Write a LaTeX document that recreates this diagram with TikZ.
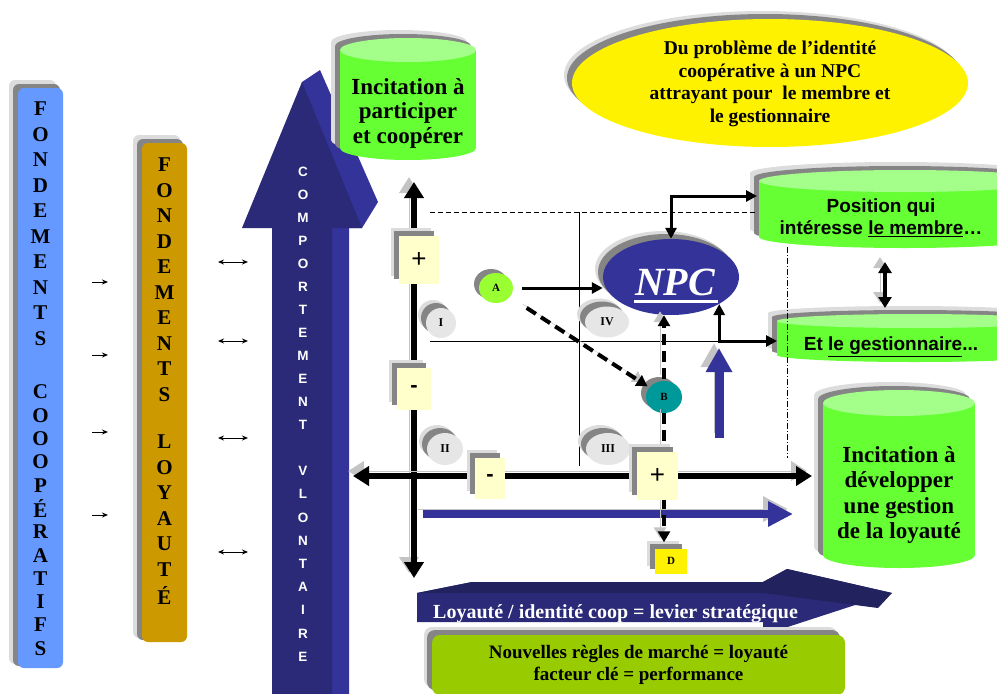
\documentclass[tikz,border=0pt]{standalone}
\usepackage{fontspec}
\setmainfont{Liberation Serif}
\newfontfamily\arialf{Liberation Sans}
\usetikzlibrary{arrows.meta,shapes.geometric,shadows}
\definecolor{colblue}{HTML}{6699FF}
\definecolor{colorange}{HTML}{CC9900}
\definecolor{navyF}{HTML}{2A2A78}
\definecolor{navyS}{HTML}{333399}
\definecolor{navyT}{HTML}{22225E}
\definecolor{cylgreen}{HTML}{66FF33}
\definecolor{cyltop}{HTML}{A3FF8A}
\definecolor{lyellow}{HTML}{FFFFCC}
\definecolor{boxgreen}{HTML}{99CC00}
\definecolor{tealB}{HTML}{009999}
\definecolor{greenA}{HTML}{99FF33}
\definecolor{ellgrey}{HTML}{E6E6E6}
\definecolor{shdark}{HTML}{858585}
\definecolor{shlight}{HTML}{DCDCDC}
\definecolor{axshadow}{HTML}{C4C4C4}
\newcommand\mycyl[5]{%
  \foreach \dx/\dy/\cc in {-9/-8/shlight,-5/-4/shdark}{
    \fill[\cc] ({#1-#2+\dx},{#3+\dy}) rectangle ({#1+#2+\dx},{#4+\dy});
    \fill[\cc] ({#1+\dx},{#3+\dy}) ellipse[x radius=#2, y radius=#5];
    \fill[\cc] ({#1+\dx},{#4+\dy}) ellipse[x radius=#2, y radius=#5];
  }
  \fill[cylgreen] ({#1-#2},#3) rectangle ({#1+#2},#4);
  \fill[cylgreen] (#1,#4) ellipse[x radius=#2, y radius=#5];
  \fill[cyltop] (#1,#3) ellipse[x radius=#2, y radius=#5];
}
\begin{document}
\begin{tikzpicture}[x=1pt,y=-1pt,
  letter/.style={font=\bfseries\fontsize{21}{21}\selectfont, inner sep=0pt},
  aletter/.style={font=\arialf\bfseries\fontsize{13.5}{13.5}\selectfont, text=white, inner sep=0pt},
  twosh/.style={general shadow={fill=shlight, shadow xshift=-8pt, shadow yshift=8pt},
                general shadow={fill=shdark, shadow xshift=-5pt, shadow yshift=5pt}},
  pm/.style={twosh, fill=lyellow, inner sep=0pt},
  qell/.style={ellipse, twosh, fill=ellgrey, inner sep=0pt, font=\bfseries\fontsize{12}{12}\selectfont},
  dotn/.style={ellipse, general shadow={fill=shdark, shadow xshift=-5pt, shadow yshift=4pt}, inner sep=0pt, font=\bfseries\fontsize{11}{11}\selectfont},
  conn/.style={line width=3pt, -{Triangle[width=11pt,length=11pt]}},
  dashconn/.style={line width=4pt, dash pattern=on 11pt off 6pt, -{Triangle[width=12pt,length=11pt]},
     preaction={draw=axshadow, transform canvas={xshift=-4pt,yshift=4pt}}},
  axis/.style={line width=6pt, {Triangle[width=19pt,length=16pt]}-{Triangle[width=19pt,length=16pt]},
     preaction={draw=axshadow, transform canvas={xshift=-5pt,yshift=5pt}}},
  bluearr/.style={navyS, preaction={draw=axshadow, transform canvas={xshift=-5pt,yshift=5pt}}},
  smallarr/.style={line width=1pt, -{Stealth[length=6pt,width=5pt]}},
  dsmallarr/.style={line width=1pt, {Stealth[length=6pt,width=5pt]}-{Stealth[length=6pt,width=5pt]}},
  thinl/.style={line width=0.8pt}
]
\useasboundingbox (0,0) rectangle (997,694);

% ---------- left columns ----------
\fill[shlight, rounded corners=6pt] (9,80) rectangle (56,664);
\fill[shdark, rounded corners=6pt] (13,84) rectangle (60,666);
\fill[colblue, rounded corners=6pt] (18,88) rectangle (63,668);
\foreach \l [count=\i from 0] in {F,O,N,D,E,M,E,N,T,S}
  \node[letter] (bA\i) at (40.5,{109+25.5*\i}) {\l};
\foreach \l [count=\i from 0] in {C,O,O,O,P,É,R,A,T,I,F,S}
  \node[letter] (bB\i) at (40.5,{392+23.3*\i}) {\l};

\fill[shlight, rounded corners=6pt] (133,135) rectangle (180,638);
\fill[shdark, rounded corners=6pt] (137,139) rectangle (183,640);
\fill[colorange, rounded corners=6pt] (142,143) rectangle (187,642);
\foreach \l [count=\i from 0] in {F,O,N,D,E,M,E,N,T,S}
  \node[letter] (oA\i) at (164.5,{165+25.5*\i}) {\l};
\foreach \l [count=\i from 0] in {L,O,Y,A,U,T,É}
  \node[letter] (oB\i) at (164.5,{442+25.5*\i}) {\l};

% small arrows
\foreach \y [count=\i] in {282,355,432,515}{
  \coordinate (sa\i) at (92,\y); \coordinate (sb\i) at (108,\y);
  \draw[smallarr] (sa\i) -- (sb\i);}
\foreach \y [count=\i] in {262,341,438,552}{
  \coordinate (da\i) at (218,\y); \coordinate (db\i) at (248,\y);
  \draw[dsmallarr] (da\i) -- (db\i);}

% ---------- big vertical arrow ----------
\fill[navyS] (302,82) -- (320,70) -- (378,202) -- (362,228) -- (349,228) -- (349,694) -- (300,694) -- (300,228) -- cycle;
\fill[navyF] (272,694) -- (272,228) -- (242,228) -- (302,82) -- (362,228) -- (332,228) -- (332,694) -- cycle;
\foreach \l [count=\i from 0] in {C,O,M,P,O,R,T,E,M,E,N,T}
  \node[aletter] (cA\i) at (303,{172+23*\i}) {\l};
\foreach \l [count=\i from 0] in {V,L,O,N,T,A,I,R,E}
  \node[aletter] (cB\i) at (303,{471+23.2*\i}) {\l};

% ---------- cylinders ----------
\mycyl{408}{68}{50}{148}{12}
\node[font=\bfseries\fontsize{23}{24.5}\selectfont, align=center] (cylpart) at (408,113) {Incitation à\\participer\\et coopérer};

\mycyl{905}{146}{181}{237}{11}
\node[font=\arialf\bfseries\fontsize{19}{22}\selectfont, align=center] (cylpos) at (881,218) {Position qui\\intéresse \underline{le membre}…};

\mycyl{915}{138}{321}{355}{7}
\node[font=\arialf\bfseries\fontsize{19}{22}\selectfont] (cylet) at (891,347) {Et \underline{le gestionnaire}...};

\mycyl{899}{76}{403}{555}{13}
\node[font=\bfseries\fontsize{23}{25.3}\selectfont, align=center] (cyldev) at (899,495) {Incitation à\\développer\\une gestion\\de la loyauté};

% ---------- yellow ellipse ----------
\node[ellipse, twosh, fill=yellow, minimum width=396pt, minimum height=128pt] (prob) at (770,83) {};
\node[font=\bfseries\fontsize{19.5}{22.5}\selectfont, align=center] (probtext) at (770,84)
  {Du problème de l’identité\\coopérative à un NPC\\attrayant pour~ le membre et\\le gestionnaire};

% ---------- thin frame lines ----------
\coordinate (t1) at (430,212); \coordinate (t2) at (757,212);
\draw[thinl, dashed, dash pattern=on 5pt off 3pt] (t1) -- (t2);
\coordinate (t3) at (579,212); \coordinate (t4) at (579,466);
\draw[thinl] (t3) -- (t4);
\coordinate (t5) at (430,341); \coordinate (t6) at (720,341);
\draw[thinl] (t5) -- (t6);
\coordinate (t7) at (787,247); \coordinate (t8) at (787,458);
\draw[thinl, dash pattern=on 6pt off 2pt on 1pt off 2pt] (t7) -- (t8);

% ---------- axes ----------
\coordinate (vt) at (414,182); \coordinate (vb) at (414,578);
\coordinate (hl) at (353,476); \coordinate (hr) at (812,476);
\draw[axis] (vb) -- (vt);
\draw[axis] (hl) -- (hr);

% blue arrows
\coordinate (bh1) at (423,514); \coordinate (bh2) at (793,514);
\draw[bluearr, line width=8pt, -{Triangle[width=24pt,length=25pt]}] (bh1) -- (bh2);
\coordinate (bu1) at (719,438); \coordinate (bu2) at (719,348);
\draw[bluearr, line width=9pt, -{Triangle[width=25pt,length=24pt]}] (bu1) -- (bu2);

% ---------- quadrant labels ----------
\node[qell, minimum width=30pt, minimum height=30pt] (qI) at (441,323) {I};
\node[qell, minimum width=44pt, minimum height=31pt] (qIV) at (607,322) {IV};
\node[qell, minimum width=36pt, minimum height=32pt] (qII) at (445,449) {II};
\node[qell, minimum width=44pt, minimum height=32pt] (qIII) at (608,449) {III};

% ---------- NPC and points ----------
\node[ellipse, twosh, fill=navyS, minimum width=136pt, minimum height=76pt, inner sep=0pt] (npc) at (671,277) {};
\node[text=white, font=\bfseries\itshape\fontsize{40}{40}\selectfont, inner sep=0pt] (npctext) at (675,282) {NPC};
\draw[white, line width=3pt] (npctext.south west) ++(-1,6) -- ++(84,0);

\node[dotn, fill=greenA, minimum width=34pt, minimum height=30pt] (A) at (496,288) {A};
\node[dotn, fill=tealB, minimum width=36pt, minimum height=32pt] (B) at (664,397) {B};
\node[pm, fill=yellow, minimum width=32pt, minimum height=25pt, font=\bfseries\fontsize{11}{11}\selectfont] (D) at (671,561) {D};

% connectors
\draw[conn, shorten <=9pt] (A.east) -- (A.east -| npc.west);
\draw[dashconn, shorten <=20pt, shorten >=2pt] (A) -- (B);
\draw[dashconn, shorten <=2pt] (B.north) -- (B.north |- npc.south);
\draw[dashconn, shorten >=6pt] (B.south) -- (B.south |- D.north);

\coordinate (posL) at (757,196);
\draw[conn, {Triangle[width=11pt,length=11pt]}-{Triangle[width=11pt,length=11pt]}] (npc.north) |- (posL);
\coordinate (etL) at (777,341);
\draw[conn, {Triangle[width=11pt,length=11pt]}-{Triangle[width=11pt,length=11pt]}] (npc.south east) |- (etL);

\coordinate (pe1) at (885,262); \coordinate (pe2) at (885,308);
\draw[line width=4pt, {Triangle[width=13pt,length=11pt]}-{Triangle[width=13pt,length=11pt]},
  preaction={draw=axshadow, transform canvas={xshift=-5pt,yshift=5pt}}] (pe1) -- (pe2);

% plus / minus boxes (drawn over the axes and the dashed line)
\node[pm, minimum width=40pt, minimum height=48pt, font=\arialf\fontsize{26}{26}\selectfont] (vplus) at (419,260) {+};
\node[pm, minimum width=34pt, minimum height=42pt, font=\arialf\bfseries\fontsize{22}{22}\selectfont] (vminus) at (414,389) {-};
\node[pm, minimum width=30pt, minimum height=41pt, font=\arialf\bfseries\fontsize{22}{22}\selectfont] (hminus) at (490,478) {-};
\node[pm, minimum width=41pt, minimum height=48pt, font=\arialf\fontsize{26}{26}\selectfont] (hplus) at (657.5,476) {+};

% ---------- bottom arrow ----------
\fill[navyF] (417,593) -- (472,582) -- (763,582) -- (787,569) -- (892,593) -- (763,635) -- (763,622) -- (417,622) -- cycle;
\fill[navyT] (417,593) -- (472,582) -- (763,582) -- (763,593) -- cycle;
\fill[navyT] (763,582) -- (787,569) -- (892,593) -- (878,608) -- (763,593) -- cycle;
\node[text=white, font=\bfseries\fontsize{20}{20}\selectfont, anchor=base west, inner sep=0pt] (levier) at (433,618) {Loyauté / identité coop = levier stratégique};

% ---------- green box ----------
\node[twosh, fill=boxgreen, rounded corners=8pt, minimum width=413pt, minimum height=60pt, inner sep=0pt,
  font=\bfseries\fontsize{19}{22}\selectfont, align=center] (regles) at (638.5,665) {Nouvelles règles de marché = loyauté\\facteur clé = performance};
\end{tikzpicture}
\end{document}
